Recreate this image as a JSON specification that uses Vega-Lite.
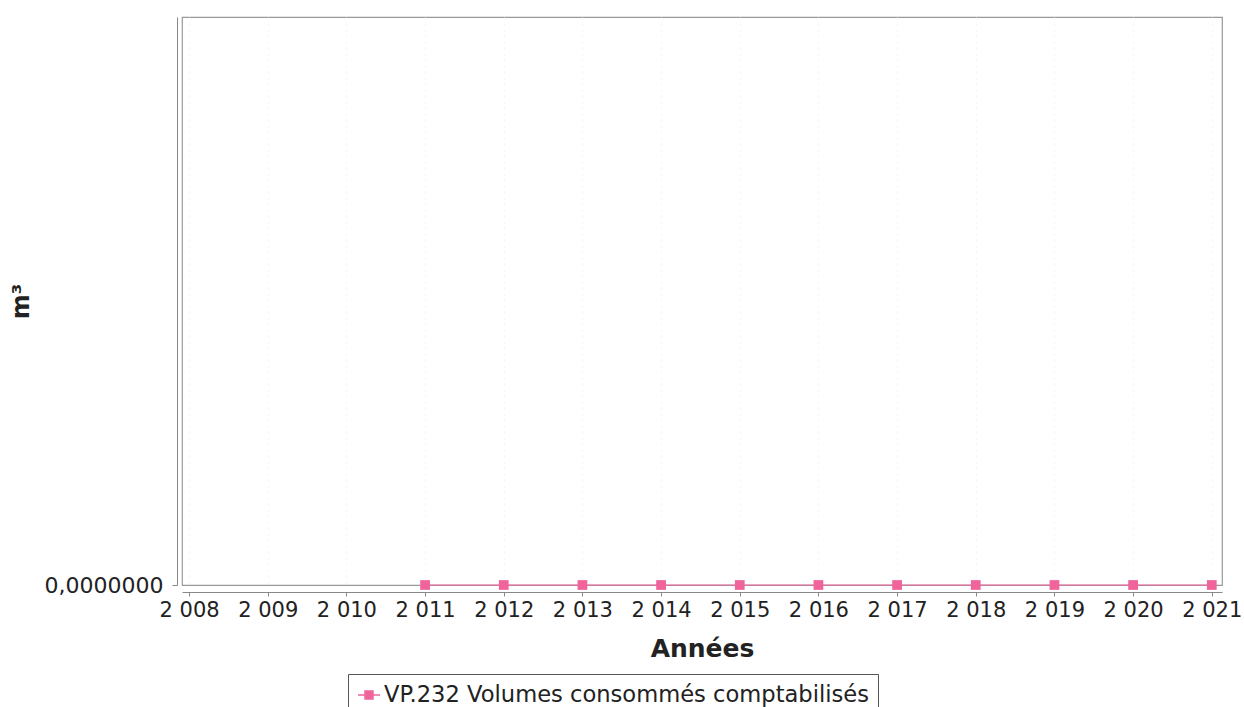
{
  "$schema": "https://vega.github.io/schema/vega-lite/v6.json",
  "autosize": {"type": "none"},
  "width": 1040,
  "height": 568,
  "padding": {"left": 182, "top": 17, "right": 22, "bottom": 122},
  "background": "white",
  "data": {
    "values": [
      {"annee": 2011, "volume": 0, "serie": "VP.232 Volumes consommés comptabilisés"},
      {"annee": 2012, "volume": 0, "serie": "VP.232 Volumes consommés comptabilisés"},
      {"annee": 2013, "volume": 0, "serie": "VP.232 Volumes consommés comptabilisés"},
      {"annee": 2014, "volume": 0, "serie": "VP.232 Volumes consommés comptabilisés"},
      {"annee": 2015, "volume": 0, "serie": "VP.232 Volumes consommés comptabilisés"},
      {"annee": 2016, "volume": 0, "serie": "VP.232 Volumes consommés comptabilisés"},
      {"annee": 2017, "volume": 0, "serie": "VP.232 Volumes consommés comptabilisés"},
      {"annee": 2018, "volume": 0, "serie": "VP.232 Volumes consommés comptabilisés"},
      {"annee": 2019, "volume": 0, "serie": "VP.232 Volumes consommés comptabilisés"},
      {"annee": 2020, "volume": 0, "serie": "VP.232 Volumes consommés comptabilisés"},
      {"annee": 2021, "volume": 0, "serie": "VP.232 Volumes consommés comptabilisés"}
    ]
  },
  "encoding": {
    "x": {
      "field": "annee",
      "type": "quantitative",
      "title": "Années",
      "scale": {"domain": [2007.91, 2021.13], "nice": false, "zero": false},
      "axis": {
        "values": [2008, 2009, 2010, 2011, 2012, 2013, 2014, 2015, 2016, 2017, 2018, 2019, 2020, 2021],
        "labelExpr": "substring(toString(datum.value), 0, 1) + ' ' + substring(toString(datum.value), 1)",
        "offset": 7,
        "tickSize": 4,
        "labelPadding": 3,
        "labelFontSize": 21,
        "labelColor": "#222",
        "titleFontSize": 25,
        "titleFontWeight": "bold",
        "titleColor": "#222",
        "titlePadding": 16,
        "grid": true,
        "gridColor": "#f3f3f3",
        "gridDash": [2, 4],
        "domainColor": "#888",
        "tickColor": "#888"
      }
    },
    "y": {
      "field": "volume",
      "type": "quantitative",
      "title": "m³",
      "scale": {"domain": [0, 1], "nice": false},
      "axis": {
        "values": [0],
        "labelExpr": "replace(format(datum.value, '.7f'), '.', ',')",
        "offset": 5,
        "tickSize": 5,
        "labelPadding": 9,
        "labelFontSize": 22,
        "labelColor": "#222",
        "titleFontSize": 24,
        "titleFontWeight": "bold",
        "titleColor": "#222",
        "titlePadding": 11,
        "grid": false,
        "domainColor": "#888",
        "tickColor": "#888"
      }
    },
    "color": {
      "field": "serie",
      "type": "nominal",
      "title": null,
      "scale": {"range": ["#F0649B"]},
      "legend": {
        "orient": "none",
        "legendX": 166,
        "legendY": 657,
        "padding": 9,
        "strokeColor": "#555",
        "fillColor": "white",
        "labelFontSize": 22.6,
        "labelLimit": 1000,
        "labelColor": "#222",
        "labelOffset": 3,
        "symbolType": "M-1,0L1,0M-0.36,-0.36L0.36,-0.36L0.36,0.36L-0.36,0.36Z",
        "symbolSize": 484,
        "symbolStrokeWidth": 1.5,
        "symbolFillColor": "#F0649B",
        "symbolStrokeColor": "#F0649B"
      }
    }
  },
  "layer": [
    {"mark": {"type": "line", "strokeWidth": 1}},
    {"mark": {"type": "point", "shape": "square", "filled": true, "size": 95, "opacity": 1}}
  ],
  "config": {
    "font": "DejaVu Sans",
    "view": {"stroke": "#999", "strokeWidth": 1.2}
  }
}
